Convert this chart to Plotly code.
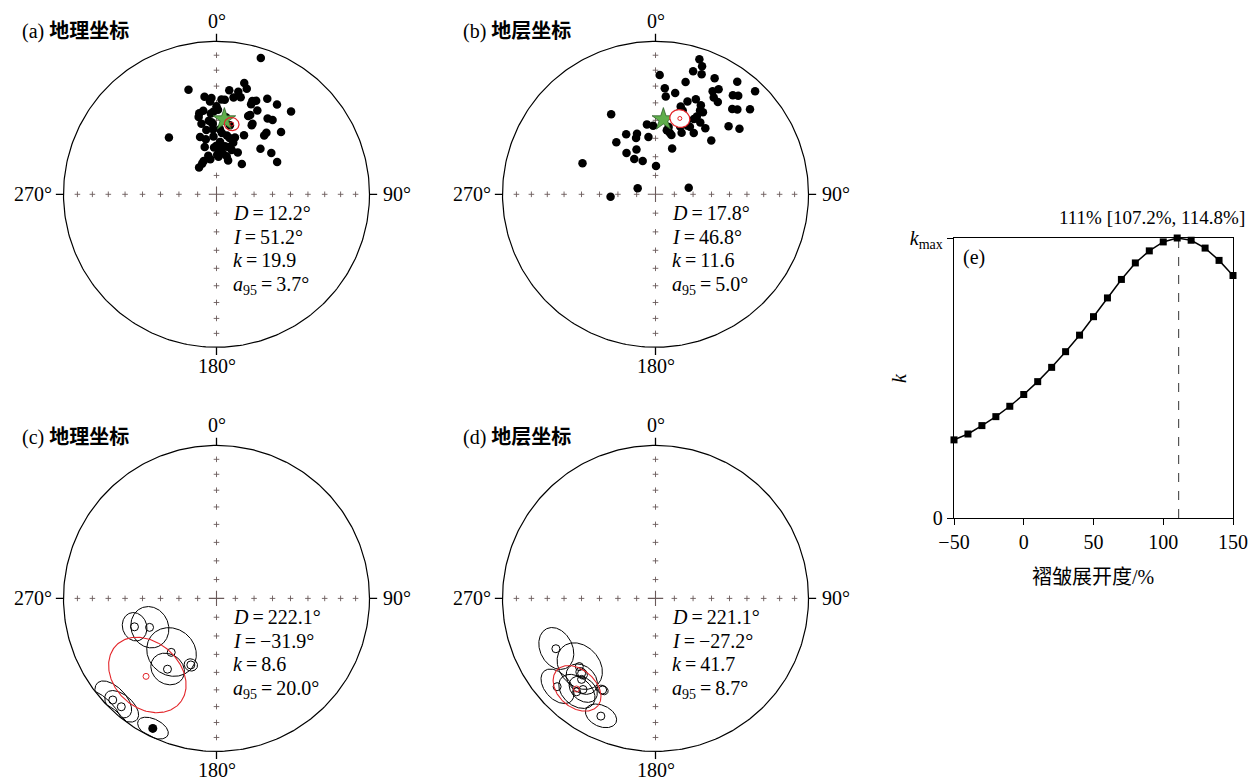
import numpy as np
import plotly.graph_objects as go

W, H = 1250, 780
SERIF = "Liberation Serif, Times New Roman, serif"
CJK = "Liberation Serif, Noto Sans CJK SC, sans-serif"

# ---------------- data ----------------
# (a) geographic coordinates: specimen directions (declination, inclination)
a_dec = [18, 345, 14, 16, 7, 12, 10, 14, 353, 356, 3, 0, 28, 34, 21, 21, 348, 351, 358, 42,
         26, 22, 34, 37, 347, 354, 348, 357, 27, 3, 320, 39, 46, 39, 344, 349, 357, 10, 18, 25,
         4, 357, 4, 14, 27, 44, 53, 348, 1, 15, 350, 19, 62, 335, 327, 40, 4, 18, 346, 357,
         7, 11, 357, 5, 356, 356, 27, 13, 0, 10, 19, 9, 3, 339, 23, 23, 1, 5, 351]
a_inc = [7, 30, 26, 29, 32, 32, 36, 35, 36, 39, 38, 42, 30, 30, 35, 37, 45, 44, 45, 28,
         39, 44, 40, 39, 47, 50, 51, 52, 48, 55, 50, 47, 41, 49, 58, 60, 59, 58, 58, 55,
         62, 65, 66, 64, 65, 56, 53, 69, 69, 69, 71, 71, 53, 72, 73, 69, 67, 61, 64, 55,
         48, 52, 37, 38, 46, 51, 47, 59, 64, 64, 65, 68, 70, 71, 34, 43, 44, 57, 55]
# (b) stratigraphic coordinates
b_dec = [18, 20, 17, 21, 2, 15, 27, 36, 44, 5, 11, 6, 29, 31, 31, 34, 38, 40, 42, 44,
         48, 47, 52, 46, 23, 19, 16, 28, 28, 16, 27, 37, 23, 32, 13, 20, 331, 353, 358, 343,
         334, 353, 341, 323, 337, 325, 329, 339, 1, 293, 289, 79, 267, 18, 27, 23, 11, 27,
         20, 25, 10, 15, 30, 32, 16]
b_inc = [8, 12, 17, 17, 23, 25, 16, 10, 7, 31, 33, 36, 24, 21, 27, 28, 19, 17, 26, 24,
         18, 35, 31, 48, 33, 36, 40, 38, 42, 44, 49, 45, 54, 51, 56, 64, 40, 52, 53, 56,
         54, 59, 58, 55, 64, 63, 68, 71, 75, 47, 80, 72, 66, 42, 35, 46, 53, 44,
         51, 49, 55, 57, 38, 44, 48]
# reference direction (green star)
star_dec = [6, 6]
star_inc = [49.3, 49.3]
# means (a), (b)
ab_mean_dec = [12.2, 17.8]
ab_mean_inc = [51.2, 46.8]
ab_mean_k = [19.9, 11.6]
ab_mean_a95 = [3.7, 5.0]

# (c) geographic site means
c_dec = [250.9, 246.6, 220.0, 214.7, 201.1, 225.6, 221.3, 206.1]
c_inc = [-42.7, -50.6, -52.0, -43.1, -51.5, -5.7, -6.4, 6.0]
c_a95 = [7.0, 10.5, 13.0, 8.6, 3.4, 9.0, 8.0, 6.5]
# (d) stratigraphic site means
d_dec = [243.2, 228.2, 228.1, 222.4, 218.5, 210.0, 204.9, 224.6, 220.2]
d_inc = [-27.9, -33.6, -14.7, -29.1, -24.9, -31.5, -16.3, -31.8, -21.2]
d_a95 = [10.0, 12.0, 8.5, 8.0, 7.0, 2.7, 7.0, 3.0, 9.0]
# means (c), (d): stated values and plotted positions
cd_mean_dec = [222.1, 221.1]
cd_mean_inc = [-31.9, -27.2]
cd_mean_k = [8.6, 41.7]
cd_mean_a95 = [20.0, 8.7]
cd_plot_dec = [222.1, 221.1]
cd_plot_inc = [-31.9, -22.5]
cd_plot_a95 = [20.0, 12.0]

# (e) fold test
unfold = [-50, -40, -30, -20, -10, 0, 10, 20, 30, 40, 50, 60, 70, 80, 90, 100, 110, 120, 130, 140, 150]
k_rel = [0.279, 0.300, 0.330, 0.362, 0.399, 0.441, 0.487, 0.538, 0.594, 0.653, 0.719,
         0.786, 0.852, 0.911, 0.954, 0.986, 1.0, 0.992, 0.964, 0.920, 0.866]
best_unfold = 111
best_text = "111% [107.2%, 114.8%]"
e_xticks = [-50, 0, 50, 100, 150]

panel_labels = ["(a)", "(b)", "(c)", "(d)"]
panel_names = ["地理坐标", "地层坐标", "地理坐标", "地层坐标"]

RED = "#e3262b"

# ---------------- helpers ----------------
def proj(dec, inc):
    d = np.radians(np.asarray(dec, float))
    i = np.radians(np.abs(np.asarray(inc, float)))
    r = np.sqrt(2) * np.sin((np.pi / 2 - i) / 2)
    return r * np.sin(d), r * np.cos(d)


def small_circle(dec, inc, a95, n=241):
    D, I, a = np.radians([dec, inc, a95])
    m = np.array([np.cos(I) * np.cos(D), np.cos(I) * np.sin(D), np.sin(I)])
    ref = np.array([0, 0, 1.0]) if abs(m[2]) < 0.9 else np.array([1.0, 0, 0])
    u = np.cross(m, ref); u /= np.linalg.norm(u)
    v = np.cross(m, u)
    t = np.linspace(0, 2 * np.pi, n)
    p = np.cos(a) * m[:, None] + np.sin(a) * (np.cos(t) * u[:, None] + np.sin(t) * v[:, None])
    decs = np.degrees(np.arctan2(p[1], p[0]))
    incs = np.degrees(np.arcsin(np.clip(p[2], -1, 1)))
    return proj(decs, incs)


def px(x):
    return x / W


def py(y):
    return 1 - y / H


fig = go.Figure()
annotations = []


def ann(text, x, y, size=20, xa="center", ya="middle", family=SERIF, angle=0):
    annotations.append(dict(text=text, x=px(x), y=py(y), xref="paper", yref="paper",
                            xanchor=xa, yanchor=ya, showarrow=False, textangle=angle,
                            font=dict(family=family, size=size, color="black")))


R = 153.0
RNG = 1.1
centers = [(216.5, 194.3), (655.5, 194.3), (216.5, 598.4), (655.5, 598.4)]
layout_axes = {}
for idx, (cx, cy) in enumerate(centers):
    n = idx + 1
    half = R * RNG
    xa = "xaxis" if n == 1 else f"xaxis{n}"
    ya = "yaxis" if n == 1 else f"yaxis{n}"
    layout_axes[xa] = dict(domain=[px(cx - half), px(cx + half)], range=[-RNG, RNG],
                           visible=False, fixedrange=True, automargin=False)
    layout_axes[ya] = dict(domain=[py(cy + half), py(cy - half)], range=[-RNG, RNG],
                           visible=False, fixedrange=True, automargin=False)

# (e)
layout_axes["xaxis5"] = dict(domain=[px(954), px(1233)], range=[-50, 150], tickvals=e_xticks,
                             ticktext=[("\u2212" + str(-v)) if v < 0 else str(v) for v in e_xticks],
                             ticks="outside", ticklen=6, tickwidth=1.2, tickcolor="black",
                             showline=True, mirror=True, linecolor="black", linewidth=1.3,
                             showgrid=False, zeroline=False, fixedrange=True, automargin=False,
                             tickfont=dict(family=SERIF, size=20, color="black"), anchor="y5")
layout_axes["yaxis5"] = dict(domain=[py(518), py(238)], range=[0, 1], tickvals=[0, 1],
                             ticktext=["0", "<i>k</i><sub>max</sub>"],
                             ticks="outside", ticklen=6, tickwidth=1.2, tickcolor="black",
                             showline=True, mirror=True, linecolor="black", linewidth=1.3,
                             showgrid=False, zeroline=False, fixedrange=True, automargin=False,
                             tickfont=dict(family=SERIF, size=20, color="black"), anchor="x5")

theta = np.linspace(0, 2 * np.pi, 361)
cross_color = "#6a5a5a"

for idx in range(4):
    n = idx + 1
    xr = "x" if n == 1 else f"x{n}"
    yr = "y" if n == 1 else f"y{n}"
    # primitive circle
    fig.add_trace(go.Scatter(x=np.cos(theta), y=np.sin(theta), mode="lines",
                             line=dict(color="black", width=1.2), xaxis=xr, yaxis=yr,
                             hoverinfo="skip", showlegend=False))
    # outward cardinal ticks
    tx, ty = [], []
    for ang in [0, 90, 180, 270]:
        s, c = np.sin(np.radians(ang)), np.cos(np.radians(ang))
        tx += [s * 1.0, s * 1.05, None]
        ty += [c * 1.0, c * 1.05, None]
    fig.add_trace(go.Scatter(x=tx, y=ty, mode="lines", line=dict(color="black", width=1.3),
                             xaxis=xr, yaxis=yr, hoverinfo="skip", showlegend=False,
                             cliponaxis=False))
    # inclination crosses every 10 degrees along the cardinal axes
    incs = np.arange(10, 90, 10)
    cdx, cdy = [], []
    for ang in [0, 90, 180, 270]:
        xx, yy = proj(np.full(incs.shape, ang), incs)
        cdx += list(xx); cdy += list(yy)
    fig.add_trace(go.Scatter(x=cdx, y=cdy, mode="markers",
                             marker=dict(symbol="cross-thin", size=4, color=cross_color,
                                         line=dict(color=cross_color, width=0.9)),
                             xaxis=xr, yaxis=yr, hoverinfo="skip", showlegend=False))
    fig.add_trace(go.Scatter(x=[0], y=[0], mode="markers",
                             marker=dict(symbol="cross-thin", size=11, color=cross_color,
                                         line=dict(color=cross_color, width=1.1)),
                             xaxis=xr, yaxis=yr, hoverinfo="skip", showlegend=False))

# (a), (b) specimen directions
for idx, (dd, ii) in enumerate([(a_dec, a_inc), (b_dec, b_inc)]):
    n = idx + 1
    xr = "x" if n == 1 else f"x{n}"
    yr = "y" if n == 1 else f"y{n}"
    xx, yy = proj(dd, ii)
    fig.add_trace(go.Scatter(x=xx, y=yy, mode="markers",
                             marker=dict(symbol="circle", size=8.5, color="black"),
                             xaxis=xr, yaxis=yr, showlegend=False))
    sx, sy = proj([star_dec[idx]], [star_inc[idx]])
    fig.add_trace(go.Scatter(x=sx, y=sy, mode="markers",
                             marker=dict(symbol="star", size=17, color="#5fae4b",
                                         line=dict(color="#2f5f2a", width=0.8)),
                             xaxis=xr, yaxis=yr, showlegend=False))
    ex, ey = small_circle(ab_mean_dec[idx], ab_mean_inc[idx], ab_mean_a95[idx])
    fig.add_trace(go.Scatter(x=ex, y=ey, mode="lines",
                             line=dict(color=RED, width=1.2),
                             fill="toself" if idx == 1 else None,
                             fillcolor="white",
                             xaxis=xr, yaxis=yr, hoverinfo="skip", showlegend=False))
    mx, my = proj([ab_mean_dec[idx]], [ab_mean_inc[idx]])
    fig.add_trace(go.Scatter(x=mx, y=my, mode="markers",
                             marker=dict(symbol="circle-open", size=4, color=RED,
                                         line=dict(color=RED, width=1)),
                             xaxis=xr, yaxis=yr, showlegend=False))

# (c), (d) site means with confidence ellipses
for idx, (dd, ii, aa) in enumerate([(c_dec, c_inc, c_a95), (d_dec, d_inc, d_a95)]):
    n = idx + 3
    xr, yr = f"x{n}", f"y{n}"
    ex_all, ey_all = [], []
    for D, I, A in zip(dd, ii, aa):
        ex, ey = small_circle(D, I, A)
        ex_all += list(ex) + [None]
        ey_all += list(ey) + [None]
    fig.add_trace(go.Scatter(x=ex_all, y=ey_all, mode="lines",
                             line=dict(color="black", width=1),
                             xaxis=xr, yaxis=yr, hoverinfo="skip", showlegend=False))
    xx, yy = proj(dd, ii)
    up = np.array(ii) < 0
    fig.add_trace(go.Scatter(x=xx[up], y=yy[up], mode="markers",
                             marker=dict(symbol="circle-open", size=8, color="black",
                                         line=dict(color="black", width=1)),
                             xaxis=xr, yaxis=yr, showlegend=False))
    if (~up).any():
        fig.add_trace(go.Scatter(x=xx[~up], y=yy[~up], mode="markers",
                                 marker=dict(symbol="circle", size=9, color="black"),
                                 xaxis=xr, yaxis=yr, showlegend=False))
    ex, ey = small_circle(cd_plot_dec[idx], cd_plot_inc[idx], cd_plot_a95[idx])
    fig.add_trace(go.Scatter(x=ex, y=ey, mode="lines",
                             line=dict(color=RED, width=1.1),
                             xaxis=xr, yaxis=yr, hoverinfo="skip", showlegend=False))
    mx, my = proj([cd_plot_dec[idx]], [cd_plot_inc[idx]])
    fig.add_trace(go.Scatter(x=mx, y=my, mode="markers",
                             marker=dict(symbol="circle-open", size=6, color=RED,
                                         line=dict(color=RED, width=1)),
                             xaxis=xr, yaxis=yr, showlegend=False))

# (e) fold test curve
fig.add_trace(go.Scatter(x=[best_unfold, best_unfold], y=[0, 1], mode="lines",
                         line=dict(color="#555555", width=1.2, dash="dash"),
                         xaxis="x5", yaxis="y5", hoverinfo="skip", showlegend=False))
fig.add_trace(go.Scatter(x=unfold, y=k_rel, mode="lines+markers",
                         line=dict(color="black", width=1.5),
                         marker=dict(symbol="square", size=7, color="black"),
                         xaxis="x5", yaxis="y5", cliponaxis=False, showlegend=False))

# ---------------- text ----------------
title_pos = [(20, 32), (461, 32), (20, 437), (461, 437)]
for lab, name, (x, y) in zip(panel_labels, panel_names, title_pos):
    ann(f"{lab} <b>{name}</b>", x, y, size=20, xa="left", family=CJK)

for idx, (cx, cy) in enumerate(centers):
    ann("0°", cx + 0.5, cy - 173.5)
    ann("180°", cx, cy + 171.5)
    ann("270°", cx - 163, cy, xa="right")
    ann("90°", cx + 164.5, cy, xa="left")

stats = [(ab_mean_dec[0], ab_mean_inc[0], ab_mean_k[0], ab_mean_a95[0]),
         (ab_mean_dec[1], ab_mean_inc[1], ab_mean_k[1], ab_mean_a95[1]),
         (cd_mean_dec[0], cd_mean_inc[0], cd_mean_k[0], cd_mean_a95[0]),
         (cd_mean_dec[1], cd_mean_inc[1], cd_mean_k[1], cd_mean_a95[1])]
for idx, (cx, cy) in enumerate(centers):
    D, I, k, a = stats[idx]
    x0 = cx + 14
    y0 = cy + 19
    Itxt = ("\u2212" + f"{-I:.1f}") if I < 0 else f"{I:.1f}"
    ann(f"<i>D</i>\u2009=\u2009{D:.1f}°", x0, y0, xa="left")
    ann(f"<i>I</i>\u2009=\u2009{Itxt}°", x0, y0 + 23.5, xa="left")
    ann(f"<i>k</i>\u2009=\u2009{k:.1f}", x0, y0 + 47, xa="left")
    ann(f"<i>a</i><sub>95</sub>\u2009=\u2009{a:.1f}°", x0, y0 + 72, xa="left")

ann(best_text, 1247, 217, size=19, xa="right")
ann("(e)", 974, 258, size=20)
ann("褶皱展开度/%", 1093, 577, size=20, family=CJK)
ann("<i>k</i>", 899, 378, size=20, angle=-90)

fig.update_layout(width=W, height=H,
                  margin=dict(l=0, r=0, t=0, b=0, pad=0, autoexpand=False),
                  paper_bgcolor="white", plot_bgcolor="rgba(0,0,0,0)",
                  showlegend=False, hovermode=False,
                  annotations=annotations, **layout_axes)
fig.write_html("out.html", config={"displayModeBar": False},
               post_script="document.body.style.margin='0px';document.body.style.padding='0px';"
                           "document.body.style.overflow='hidden';")
